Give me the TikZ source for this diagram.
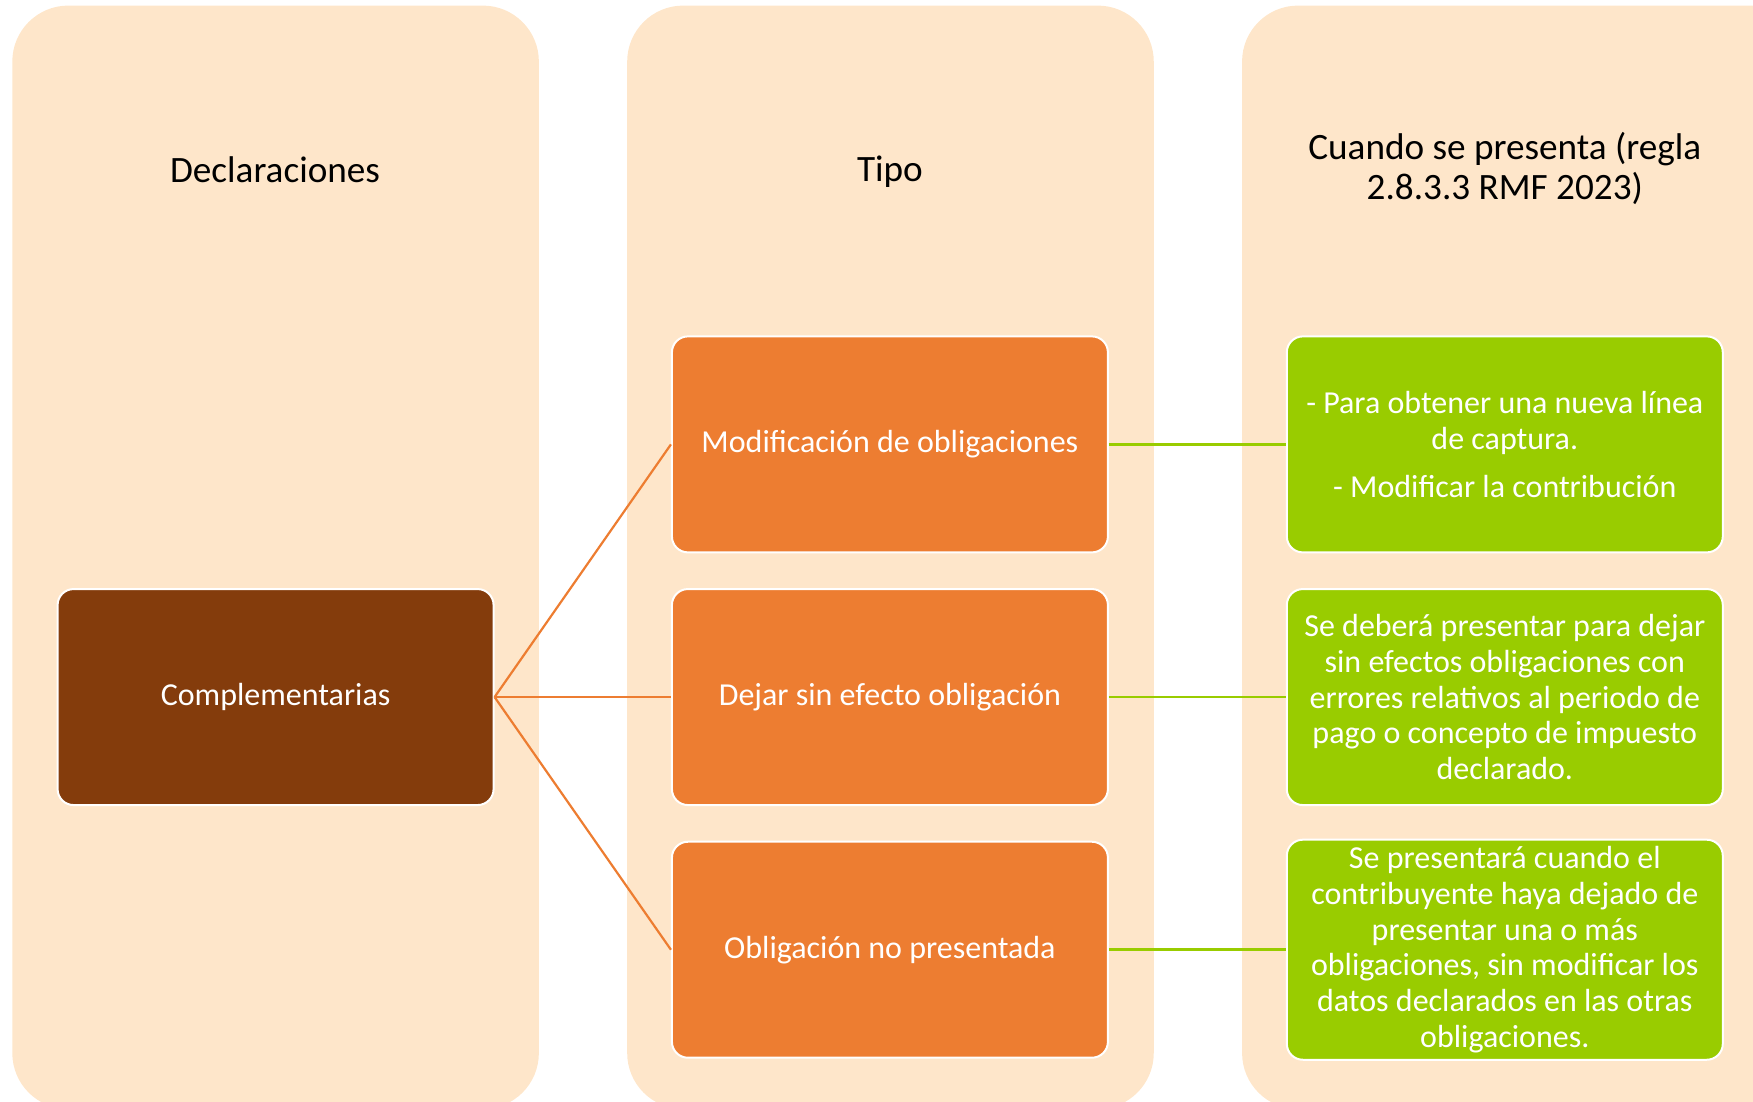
\documentclass[tikz,border=0pt]{standalone}
\usepackage{fontspec}
\setmainfont{Carlito}
\definecolor{colbeige}{HTML}{FEE6CA}
\definecolor{boxorange}{HTML}{ED7D31}
\definecolor{boxbrown}{HTML}{843C0C}
\definecolor{boxgreen}{HTML}{99CC00}
\newcommand{\headfont}{\fontsize{18.6}{20.1}\selectfont}
\newcommand{\boxfont}{\fontsize{16}{17.9}\selectfont}

\begin{document}
\begin{tikzpicture}[x=0.559pt, y=-0.559pt]

        % Setup the styles for the columns and the boxes
        \tikzset{column style/.style={fill=colbeige,
                                      draw=none,
                                      rounded corners=28pt},
                 head style/.style={align=center,
                                    font=\headfont},
                 box style/.style={rectangle,
                                   rounded corners=8pt,
                                   minimum width=218pt,
                                   minimum height=108pt,
                                   draw=white,
                                   line width=1pt,
                                   text=white,
                                   align=center,
                                   font=\boxfont}}

        \useasboundingbox (0, 0) rectangle (1568, 985);
        \clip (0, 0) rectangle (1568, 985);

        % Draw the columns
        \fill[column style] (11, 5)   rectangle (482, 992);
        \fill[column style] (561, 5)  rectangle (1032, 992);
        \fill[column style] (1111, 5) rectangle (1620, 992);

        % Column headers
        \node[head style] at (246, 152) (H1) {Declaraciones};
        \node[head style] at (796, 154) (H2) {Tipo};
        \node[head style] at (1346, 151) (H3) {Cuando se presenta (regla\\2.8.3.3 RMF 2023)};

        % Draw the boxes
        \node[box style, fill=boxbrown]  at (246.5, 623.5) (C) {Complementarias};

        \node[box style, fill=boxorange] at (796, 397.5) (M) {Modificación de obligaciones};
        \node[box style, fill=boxorange] at (796, 623.5) (D) {Dejar sin efecto obligación};
        \node[box style, fill=boxorange] at (796, 849.5) (O) {Obligación no presentada};

        \node[box style, fill=boxgreen]  at (1346, 397.5) (GM)
            {- Para obtener una nueva línea\\de captura.\\[6pt]- Modificar la contribución};
        \node[box style, fill=boxgreen]  at (1346, 623.5) (GD)
            {Se deberá presentar para dejar\\sin efectos obligaciones con\\errores relativos al periodo de\\pago o concepto de impuesto\\declarado.};
        \node[box style, fill=boxgreen]  at (1346, 849.5) (GO)
            {Se presentará cuando el\\contribuyente haya dejado de\\presentar una o más\\obligaciones, sin modificar los\\datos declarados en las otras\\obligaciones.};

        % Connect the boxes
        \draw[line width=1.1pt, draw=boxorange]
            (C.east) edge (M.west)
            (C.east) edge (D.west)
            (C.east) edge (O.west);
        \draw[line width=1.3pt, draw=boxgreen]
            (M.east) edge (GM.west)
            (D.east) edge (GD.west)
            (O.east) edge (GO.west);
    \end{tikzpicture}
\end{document}
